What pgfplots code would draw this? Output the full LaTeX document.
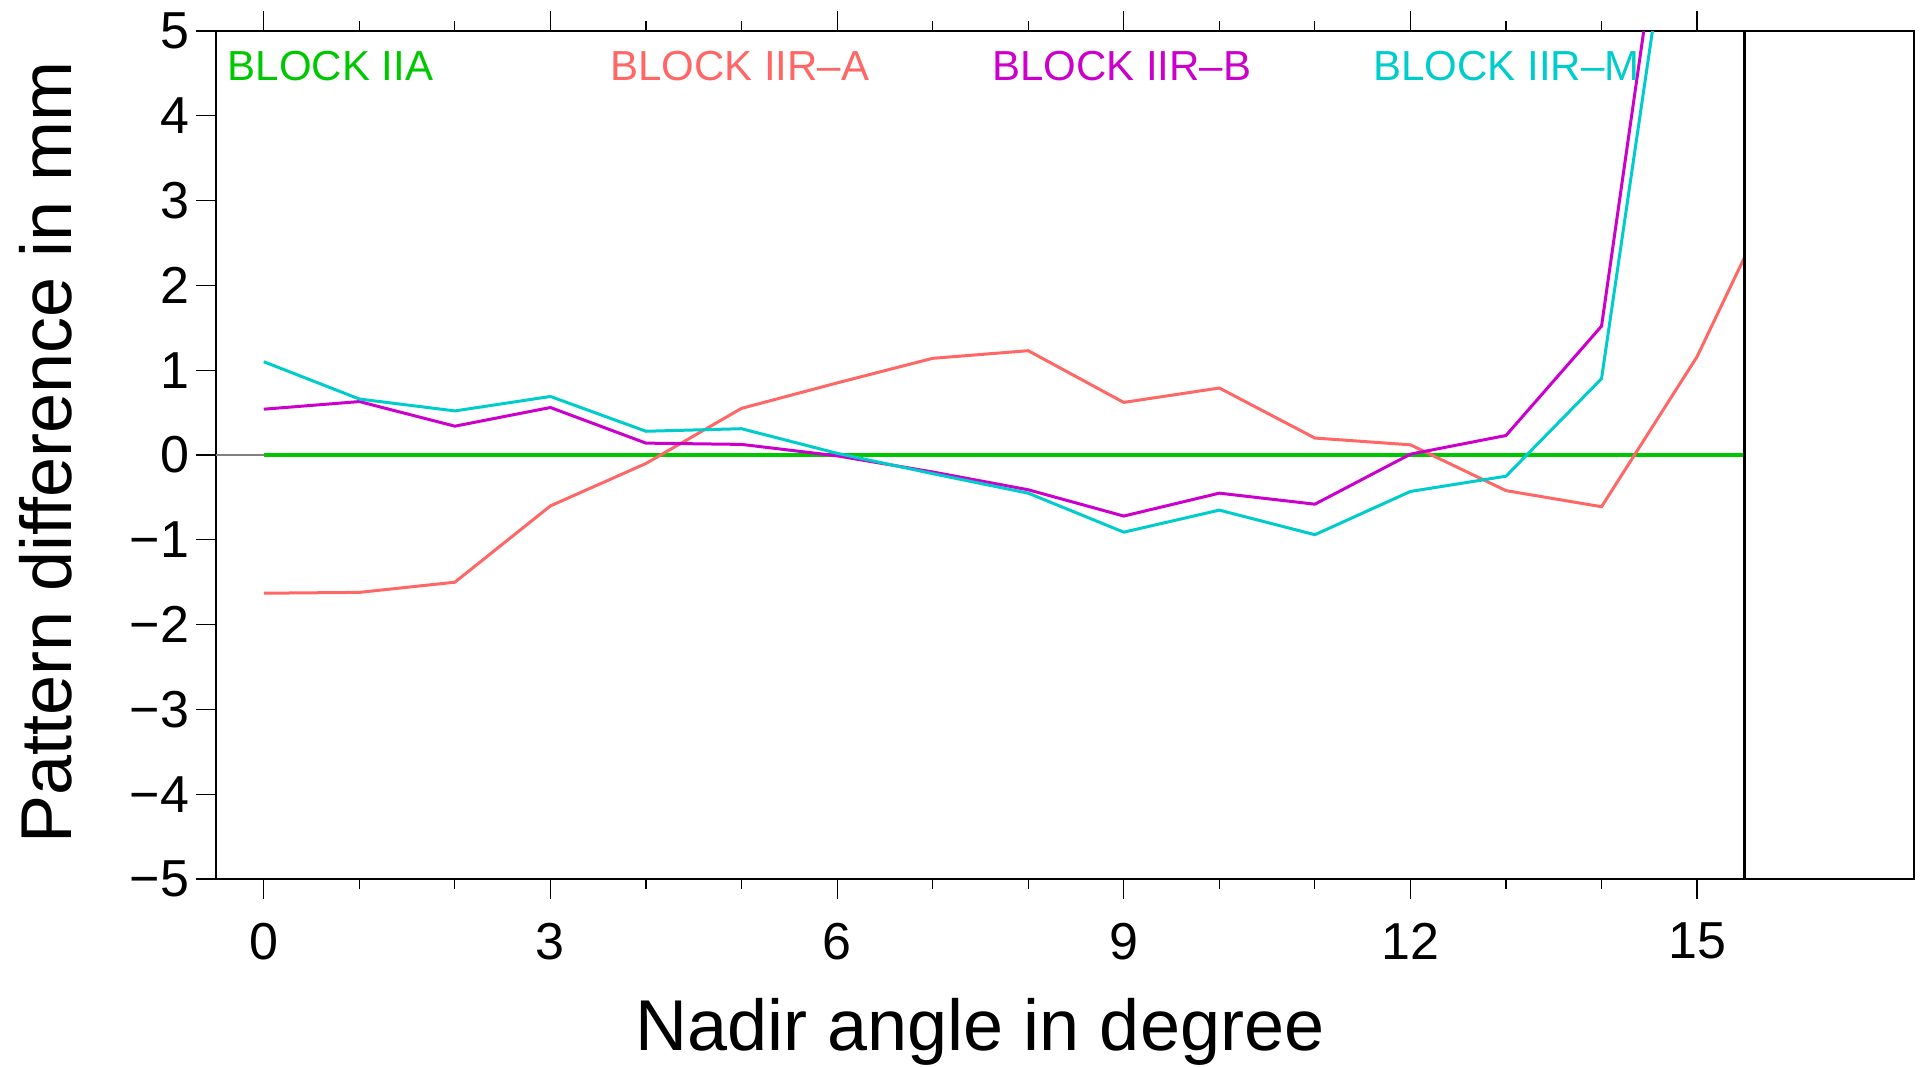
\documentclass[border=0pt]{standalone}
\usepackage{fontspec}
\setmainfont{Liberation Sans}
\usepackage{pgfplots}
\pgfplotsset{compat=1.18}
\definecolor{cgreen}{RGB}{0,200,0}
\definecolor{cred}{RGB}{255,102,102}
\definecolor{cmag}{RGB}{204,0,204}
\definecolor{ccyan}{RGB}{0,204,204}
\begin{document}
\begin{tikzpicture}
\begin{axis}[
 scale only axis, width=849pt, height=424pt,
 xmin=-0.5, xmax=17.27, ymin=-5, ymax=5,
 axis line style={line width=1.4pt},
 tick align=outside, xtick pos=both, ytick pos=left, xticklabel pos=lower,
 xtick={0,3,...,15}, xticklabels={0,3,6,9,12,15},
 minor xtick={1,2,4,5,7,8,10,11,13,14},
 ytick={-5,...,5}, yticklabels={−5,−4,−3,−2,−1,0,1,2,3,4,5},
 major tick length=10pt, minor tick length=5pt,
 every tick/.style={line width=0.6pt, black},
 ticklabel style={font=\fontsize{26}{30}\selectfont},
 xticklabel style={yshift=-8.5pt},
 xlabel={Nadir angle in degree}, ylabel={Pattern difference in mm},
 label style={font=\fontsize{36}{40}\selectfont},
 xlabel style={at={(axis description cs:0.45,-0.180)}, anchor=center},
 ylabel style={at={(axis description cs:-0.1001,0.503)}, anchor=center},
 clip=true,
]
\addplot[gray, line width=0.6pt] coordinates {(-0.5,0) (0,0)};
\addplot[cgreen, line width=1.6pt] coordinates {(0,0) (15.5,0)};
\addplot[cred, line width=1.5pt] coordinates {(0,-1.63)(1,-1.62)(2,-1.50)(3,-0.60)(4,-0.10)(5,0.55)(6,0.85)(7,1.14)(8,1.23)(9,0.62)(10,0.79)(11,0.20)(12,0.12)(13,-0.42)(14,-0.61)(15,1.16)(15.5,2.34)};
\addplot[cmag, line width=1.5pt] coordinates {(0,0.54)(1,0.63)(2,0.34)(3,0.56)(4,0.14)(5,0.125)(6,-0.01)(7,-0.20)(8,-0.41)(9,-0.72)(10,-0.45)(11,-0.58)(12,0.01)(13,0.23)(14,1.52)(15,9.4)};
\addplot[ccyan, line width=1.5pt] coordinates {(0,1.10)(1,0.66)(2,0.52)(3,0.69)(4,0.28)(5,0.31)(6,0.02)(7,-0.22)(8,-0.45)(9,-0.91)(10,-0.65)(11,-0.94)(12,-0.43)(13,-0.25)(14,0.90)(15,8.6)};
\addplot[black, line width=1.4pt] coordinates {(15.5,-5) (15.5,5)};
\node[anchor=west, inner sep=0pt, text=cgreen, font=\fontsize{21}{24}\selectfont] at (axis cs:-0.38,4.59) {BLOCK IIA};
\node[anchor=west, inner sep=0pt, text=cred, font=\fontsize{21}{24}\selectfont] at (axis cs:3.62,4.59) {BLOCK IIR--A};
\node[anchor=west, inner sep=0pt, text=cmag, font=\fontsize{21}{24}\selectfont] at (axis cs:7.62,4.59) {BLOCK IIR--B};
\node[anchor=west, inner sep=0pt, text=ccyan, font=\fontsize{21}{24}\selectfont] at (axis cs:11.61,4.59) {BLOCK IIR--M};
\end{axis}
\pgfresetboundingbox
\path[use as bounding box] (-108pt,-93.5pt) rectangle (853.5pt,439.5pt);
\end{tikzpicture}
\end{document}
